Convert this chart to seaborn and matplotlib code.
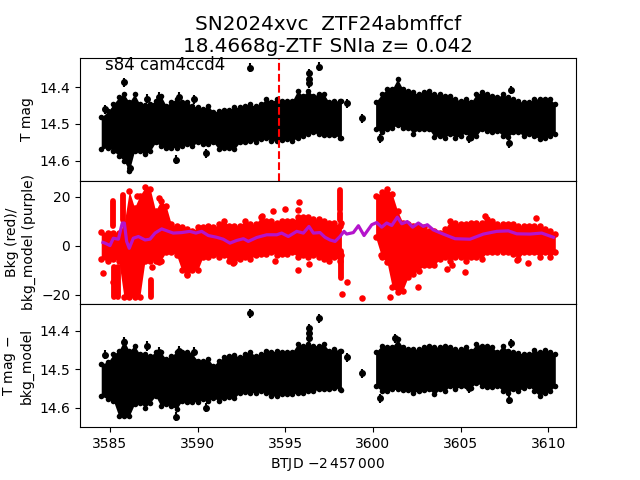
"""
SN2024xvc TESS light curve, three stacked panels
"""
import matplotlib
matplotlib.use('Agg')
import matplotlib.pyplot as plt
import seaborn as sns

# time knots of the two data blocks (BTJD)
t_left = [3584.5, 3584.9, 3585.2, 3585.5, 3585.8, 3586.1, 3586.4, 3586.7, 3587.0, 3587.3,
          3587.6, 3587.9, 3588.2, 3588.5, 3588.8, 3589.1, 3589.4, 3589.7, 3590.0, 3590.3,
          3590.6, 3590.9, 3591.2, 3591.5, 3591.8, 3592.1, 3592.4, 3592.7, 3593.0, 3593.3,
          3593.6, 3593.9, 3594.2, 3594.5, 3594.8, 3595.1, 3595.4, 3595.7, 3596.0, 3596.3,
          3596.6, 3596.9, 3597.2, 3597.5, 3597.8, 3598.1, 3598.2]
t_right = [3600.15, 3600.5, 3600.8, 3601.1, 3601.4, 3601.7, 3602.0, 3602.3, 3602.6, 3602.9,
           3603.2, 3603.5, 3603.8, 3604.1, 3604.4, 3604.7, 3605.0, 3605.3, 3605.6, 3605.9,
           3606.2, 3606.5, 3606.8, 3607.1, 3607.4, 3607.7, 3608.0, 3608.3, 3608.6, 3608.9,
           3609.2, 3609.5, 3609.8, 3610.1, 3610.4]

# top panel: bright and faint edge of the points
mag_hi_left = [14.482, 14.465, 14.446, 14.428, 14.419, 14.441, 14.419, 14.446, 14.449, 14.446,
               14.437, 14.423, 14.45, 14.44, 14.432, 14.441, 14.441, 14.45, 14.455, 14.459,
               14.45, 14.468, 14.464, 14.461, 14.461, 14.455, 14.455, 14.45, 14.446, 14.452,
               14.446, 14.432, 14.44, 14.432, 14.437, 14.437, 14.437, 14.41, 14.423, 14.41,
               14.423, 14.419, 14.419, 14.441, 14.437, 14.437, 14.437]
mag_lo_left = [14.568, 14.564, 14.573, 14.586, 14.6, 14.627, 14.573, 14.573, 14.582, 14.573,
               14.55, 14.559, 14.564, 14.564, 14.564, 14.559, 14.555, 14.559, 14.55, 14.555,
               14.555, 14.55, 14.568, 14.564, 14.564, 14.568, 14.55, 14.55, 14.546, 14.548,
               14.541, 14.537, 14.546, 14.546, 14.544, 14.541, 14.546, 14.537, 14.532, 14.526,
               14.523, 14.528, 14.53, 14.53, 14.53, 14.537, 14.537]
mag_hi_right = [14.441, 14.419, 14.405, 14.405, 14.378, 14.405, 14.41, 14.414, 14.419, 14.413,
                14.41, 14.419, 14.419, 14.423, 14.423, 14.432, 14.437, 14.432, 14.441, 14.419,
                14.414, 14.419, 14.423, 14.428, 14.419, 14.428, 14.432, 14.439, 14.44, 14.441,
                14.432, 14.432, 14.431, 14.432, 14.446]
mag_lo_right = [14.514, 14.523, 14.514, 14.51, 14.503, 14.51, 14.51, 14.526, 14.514, 14.514,
                14.514, 14.535, 14.532, 14.537, 14.526, 14.537, 14.532, 14.523, 14.537, 14.532,
                14.514, 14.519, 14.523, 14.519, 14.532, 14.535, 14.523, 14.523, 14.532, 14.528,
                14.532, 14.541, 14.537, 14.532, 14.528]
mag_out_t = [3585.8, 3586.14, 3587.13, 3587.81, 3588.94, 3589.81, 3588.78, 3590.5, 3593.0, 3596.94,
             3596.35, 3596.35, 3596.35, 3584.72, 3598.54, 3599.38, 3600.4, 3607.89, 3607.78, 3605.5]
mag_out = [14.387, 14.62, 14.431, 14.426, 14.426, 14.433, 14.597, 14.579, 14.347, 14.345,
           14.363, 14.377, 14.39, 14.46, 14.444, 14.485, 14.539, 14.408, 14.552, 14.539]

# middle panel: background flux and its model
bkg_hi_left = [5.7, 5.4, 5.4, 5.4, 8.8, 22.4, 15.6, 20.4, 23.8, 23.1,
               14.3, 18.4, 16.3, 8.8, 8.2, 7.5, 6.8, 6.1, 7.5, 7.5,
               8.2, 7.5, 8.8, 10.2, 8.2, 8.2, 8.2, 10.2, 8.8, 8.8,
               11.6, 10.2, 10.2, 9.5, 10.2, 10.2, 10.2, 11.6, 11.6, 11.6,
               10.9, 10.9, 10.2, 9.5, 9.5, 8.2, 9.5]
bkg_lo_left = [-5.3, -6.3, -5.3, -6.0, -21.0, -21.0, -21.0, -21.0, -6.0, -6.0,
               -6.0, -6.0, -2.6, -2.6, -3.9, -10.0, -11.4, -10.0, -10.0, -4.6,
               -4.6, -3.9, -4.6, -3.9, -6.0, -6.7, -5.3, -4.6, -5.3, -3.9,
               -3.3, -3.3, -2.6, -3.9, -3.3, -3.3, -2.6, -4.6, -3.9, -4.6,
               -3.9, -4.6, -5.3, -6.0, -4.6, -6.0, -3.9]
bkg_hi_right = [20.4, 21.8, 23.1, 21.1, 14.3, 9.5, 8.8, 8.2, 8.2, 7.5,
                6.1, 6.1, 5.4, 6.8, 10.2, 9.5, 8.8, 8.8, 9.3, 9.5,
                9.5, 10.9, 10.2, 8.8, 8.8, 8.8, 8.8, 8.2, 8.2, 8.2,
                8.2, 8.2, 6.8, 6.1, 4.8]
bkg_lo_right = [3.5, -4.6, -6.7, -16.9, -18.9, -18.2, -12.8, -11.4, -10.1, -8.0,
                -8.0, -8.0, -5.3, -4.6, -6.0, -4.6, -4.6, -6.0, -4.6, -4.6,
                -5.3, -2.6, -2.6, -2.6, -2.6, -2.6, -3.3, -5.3, -2.6, -2.6,
                -2.6, -4.6, -2.6, -4.6, -2.6]
bkg_out_t = [3586.56, 3587.81, 3593.69, 3594.32, 3595.0, 3595.78, 3595.74, 3587.81, 3595.74, 3596.37,
             3594.43, 3592.0, 3589.37, 3584.62, 3585.19, 3587.38, 3598.54, 3599.39, 3604.24, 3604.53,
             3605.27, 3602.59, 3608.86, 3608.23, 3606.41, 3609.28, 3600.97, 3600.44, 3598.22]
bkg_out = [20.4, 19.5, 12.2, 14.0, 14.9, 17.8, 14.7, -6.4, -9.8, -7.3,
           -6.1, -7.1, -11.8, -11.2, -14.6, -8.7, -14.8, -21.1, -9.4, -8.0,
           -10.7, -16.9, -7.1, -5.7, 12.2, 11.3, -20.7, -3.7, -19.7]
# columns of red points that stand apart from the main cloud
col_t = [3585.15, 3585.23, 3585.48, 3585.76, 3598.12, 3598.12, 3598.15, 3587.34]
col_lo = [7.9, -21.0, -21.0, 10.6, 14.7, 10.6, -13.2, -21.0]
col_hi = [18.1, -8.7, -8.7, 20.8, 22.9, 13.3, -2.3, -13.9]

model_t = [3584.6, 3584.72, 3585.0, 3585.19, 3585.48, 3585.7, 3585.82, 3585.95, 3586.1, 3586.33,
           3586.62, 3587.0, 3587.28, 3587.57, 3587.95, 3588.33, 3588.61, 3589.09, 3589.56, 3589.9,
           3590.23, 3590.61, 3591.08, 3591.46, 3591.84, 3592.23, 3592.61, 3592.89, 3593.37, 3593.94,
           3594.51, 3594.79, 3595.17, 3595.65, 3596.03, 3596.35, 3596.6, 3596.98, 3597.26, 3597.55,
           3597.84, 3598.12, 3598.35, 3598.5, 3598.88, 3599.17, 3599.49, 3599.93, 3600.21, 3600.5,
           3600.78, 3601.07, 3601.39, 3601.64, 3601.96, 3602.26, 3602.59, 3602.87, 3603.1, 3603.44,
           3604.01, 3604.68, 3605.53, 3606.3, 3607.06, 3607.72, 3608.2, 3608.96, 3609.62, 3610.29]
model_bkg = [1.4, 1.1, 0.1, 3.1, 2.7, 9.3, 9.3, 1.8, -1.0, 3.1,
             3.8, 2.4, 2.7, 5.2, 6.9, 5.9, 5.2, 5.4, 5.9, 5.2,
             5.9, 4.2, 3.5, 2.7, 1.1, 2.2, 2.9, 1.8, 3.4, 4.5,
             4.5, 5.2, 3.8, 5.9, 5.2, 7.9, 5.2, 5.4, 3.5, 2.4,
             1.8, 3.8, 5.9, 4.8, 5.4, 8.2, 4.2, 8.6, 9.5, 7.6,
             9.3, 8.3, 11.7, 9.0, 9.9, 7.6, 9.3, 7.9, 8.6, 6.5,
             4.8, 2.9, 2.7, 4.8, 5.9, 6.1, 4.9, 4.8, 5.2, 3.5]

# bottom panel: background subtracted magnitude
sub_hi_left = [14.486, 14.48, 14.46, 14.452, 14.425, 14.452, 14.438, 14.46, 14.46, 14.464,
               14.455, 14.455, 14.473, 14.464, 14.455, 14.455, 14.455, 14.46, 14.477, 14.477,
               14.473, 14.49, 14.477, 14.468, 14.464, 14.462, 14.468, 14.46, 14.455, 14.464,
               14.46, 14.451, 14.455, 14.451, 14.454, 14.455, 14.455, 14.434, 14.438, 14.434,
               14.438, 14.438, 14.434, 14.451, 14.447, 14.451, 14.451]
sub_lo_left = [14.569, 14.577, 14.582, 14.621, 14.621, 14.621, 14.59, 14.586, 14.599, 14.586,
               14.569, 14.595, 14.59, 14.595, 14.603, 14.582, 14.584, 14.584, 14.584, 14.577,
               14.582, 14.573, 14.582, 14.573, 14.571, 14.575, 14.56, 14.558, 14.56, 14.56,
               14.556, 14.56, 14.569, 14.569, 14.565, 14.565, 14.565, 14.56, 14.56, 14.556,
               14.556, 14.552, 14.552, 14.552, 14.547, 14.552, 14.554]
sub_hi_right = [14.455, 14.438, 14.442, 14.442, 14.421, 14.442, 14.447, 14.447, 14.447, 14.442,
                14.438, 14.442, 14.441, 14.438, 14.442, 14.447, 14.447, 14.442, 14.451, 14.434,
                14.438, 14.438, 14.442, 14.455, 14.438, 14.451, 14.455, 14.457, 14.46, 14.46,
                14.449, 14.455, 14.449, 14.454, 14.46]
sub_lo_right = [14.543, 14.556, 14.556, 14.552, 14.552, 14.554, 14.554, 14.56, 14.556, 14.554,
                14.552, 14.565, 14.552, 14.556, 14.543, 14.552, 14.543, 14.543, 14.547, 14.534,
                14.543, 14.545, 14.545, 14.543, 14.556, 14.56, 14.552, 14.556, 14.547, 14.543,
                14.556, 14.569, 14.56, 14.556, 14.543]
sub_out_t = [3585.8, 3587.13, 3587.81, 3588.94, 3589.81, 3588.78, 3590.5, 3593.0, 3596.94, 3596.35,
             3596.35, 3596.35, 3584.72, 3598.54, 3599.38, 3600.4, 3601.26, 3607.89, 3607.78, 3605.5]
sub_out = [14.428, 14.439, 14.454, 14.451, 14.454, 14.623, 14.599, 14.354, 14.367, 14.393,
           14.406, 14.419, 14.462, 14.468, 14.51, 14.575, 14.419, 14.432, 14.579, 14.549]

t_event = 3594.62
title_text = 'SN2024xvc  ZTF24abmffcf\n18.4668g-ZTF SNIa z= 0.042'


def dibujar_banda(ax, t, lo, hi, color, size):
    # solid cloud between the two edges, with round points along them
    ax.fill_between(t, lo, hi, color=color, linewidth=0)
    sns.scatterplot(x=t, y=lo, ax=ax, color=color, s=size, linewidth=0, legend=False)
    sns.scatterplot(x=t, y=hi, ax=ax, color=color, s=size, linewidth=0, legend=False)


fig, axes = plt.subplots(3, 1, sharex=True, figsize=(6.4, 4.8), dpi=100)
fig.subplots_adjust(hspace=0)
ax1, ax2, ax3 = axes

dibujar_banda(ax1, t_left, mag_lo_left, mag_hi_left, 'k', 16)
dibujar_banda(ax1, t_right, mag_lo_right, mag_hi_right, 'k', 16)
ax1.errorbar(mag_out_t, mag_out, yerr=0.012, fmt='o', color='k', ms=4)
ax1.axvline(t_event, color='r', ls='--', lw=1.5)
ax1.set_ylim(14.654, 14.32)
ax1.set_yticks([14.4, 14.5, 14.6])
ax1.set_ylabel('T mag')
ax1.text(0.05, 0.94, 's84 cam4ccd4', transform=ax1.transAxes, fontsize=12, va='center')
ax1.set_title(title_text, fontsize=14.4, pad=4)

dibujar_banda(ax2, t_left, bkg_lo_left, bkg_hi_left, 'r', 22)
dibujar_banda(ax2, t_right, bkg_lo_right, bkg_hi_right, 'r', 22)
ax2.vlines(col_t, col_lo, col_hi, color='r', lw=4.2, capstyle='round')
sns.scatterplot(x=bkg_out_t, y=bkg_out, ax=ax2, color='r', s=22, linewidth=0, legend=False)
sns.lineplot(x=model_t, y=model_bkg, ax=ax2, color='#b414cc', lw=2.3, sort=False, estimator=None)
ax2.set_ylim(-23.7, 26.5)
ax2.set_yticks([-20, 0, 20])
ax2.set_ylabel('Bkg (red)/\nbkg_model (purple)')

dibujar_banda(ax3, t_left, sub_lo_left, sub_hi_left, 'k', 16)
dibujar_banda(ax3, t_right, sub_lo_right, sub_hi_right, 'k', 16)
ax3.errorbar(sub_out_t, sub_out, yerr=0.012, fmt='o', color='k', ms=4)
ax3.set_ylim(14.65, 14.33)
ax3.set_yticks([14.4, 14.5, 14.6])
ax3.set_ylabel('T mag $-$\nbkg_model')
ax3.set_xlim(3583.29, 3611.58)
ax3.set_xticks([3585, 3590, 3595, 3600, 3605, 3610])
ax3.set_xlabel('BTJD $-2\\,457\\,000$')

fig.savefig('out.png', dpi=100)
